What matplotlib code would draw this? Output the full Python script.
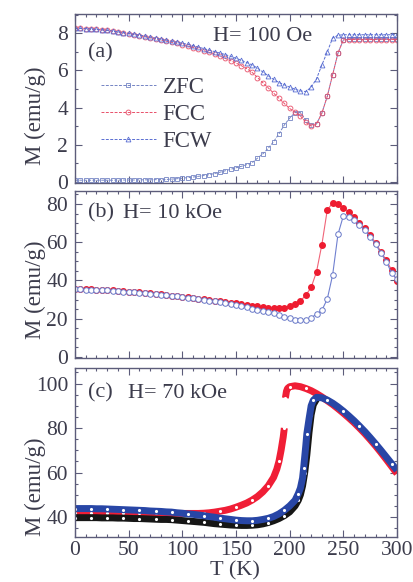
import matplotlib
matplotlib.use("Agg")
import matplotlib.pyplot as plt
from matplotlib.ticker import MultipleLocator

# ---- panel (a): H = 100 Oe, 5 K steps ----
T_a = list(range(0, 301, 5))
zfc_a = [0.08, 0.08, 0.08, 0.08, 0.08, 0.08, 0.08, 0.08, 0.09, 0.09,
         0.09, 0.09, 0.10, 0.10, 0.10, 0.11, 0.11, 0.12, 0.14, 0.16,
         0.19, 0.22, 0.25, 0.29, 0.33, 0.38, 0.44, 0.51, 0.59, 0.67,
         0.75, 0.83, 0.92, 1.02, 1.27, 1.50, 1.80, 2.16, 2.58, 3.06,
         3.43, 3.73, 3.73, 3.33, 3.06, 3.12, 3.70, 4.60, 5.77, 6.94,
         7.65, 7.68, 7.68, 7.68, 7.68, 7.68, 7.68, 7.68, 7.68, 7.68, 7.68]
fcc_a = [8.28, 8.27, 8.26, 8.24, 8.22, 8.19, 8.16, 8.12, 8.08, 8.03,
         7.98, 7.93, 7.88, 7.82, 7.76, 7.70, 7.64, 7.58, 7.52, 7.46,
         7.39, 7.32, 7.24, 7.16, 7.07, 6.98, 6.88, 6.77, 6.65, 6.53,
         6.40, 6.26, 6.10, 5.90, 5.62, 5.34, 5.06, 4.78, 4.50, 4.22,
         3.95, 3.75, 3.55, 3.20, 3.00, 3.10, 3.70, 4.60, 5.77, 6.94,
         7.65, 7.67, 7.67, 7.67, 7.67, 7.67, 7.67, 7.67, 7.67, 7.67, 7.67]
fcw_a = [8.28, 8.27, 8.26, 8.24, 8.22, 8.20, 8.17, 8.13, 8.09, 8.05,
         8.00, 7.96, 7.91, 7.86, 7.80, 7.75, 7.69, 7.64, 7.58, 7.53,
         7.47, 7.41, 7.34, 7.26, 7.18, 7.10, 7.02, 6.94, 6.86, 6.76,
         6.66, 6.55, 6.43, 6.30, 6.13, 5.92, 5.72, 5.52, 5.35, 5.23,
         5.10, 4.99, 4.90, 4.86, 5.10, 5.55, 6.30, 7.00, 7.75, 7.90,
         7.93, 7.93, 7.93, 7.93, 7.93, 7.93, 7.93, 7.93, 7.93, 7.93, 7.93]

# ---- panel (b): H = 10 kOe ----
T_b = list(range(0, 301, 5))
fcc_b = [35.5, 35.5, 35.4, 35.3, 35.2, 35.1, 35.0, 34.8, 34.6, 34.4,
         34.2, 34.0, 33.8, 33.5, 33.3, 33.0, 32.7, 32.4, 32.1, 31.8,
         31.5, 31.2, 30.8, 30.5, 30.1, 29.8, 29.4, 29.1, 28.7, 28.4,
         28.0, 27.6, 27.2, 26.8, 26.4, 26.0, 25.8, 25.7, 25.7, 25.7,
         26.5, 27.6, 29.2, 32.3, 36.3, 44.5, 58.8, 76.8, 80.6, 79.8,
         78.0, 75.9, 73.3, 69.8, 67.2, 63.7, 59.7, 55.0, 50.6, 45.4, 39.5]
fcw_b = [35.3, 35.3, 35.2, 35.1, 35.0, 34.9, 34.8, 34.6, 34.4, 34.2,
         34.0, 33.8, 33.6, 33.3, 33.1, 32.8, 32.5, 32.2, 31.9, 31.6,
         31.3, 31.0, 30.6, 30.2, 29.8, 29.4, 29.0, 28.5, 28.0, 27.5,
         27.0, 26.5, 25.9, 25.3, 24.7, 24.0, 23.4, 22.7, 21.8, 20.9,
         20.1, 19.5, 19.2, 19.3, 20.4, 22.4, 24.4, 30.2, 42.8, 64.1,
         73.8, 73.3, 71.6, 69.0, 66.3, 62.8, 59.0, 54.3, 49.9, 43.8, 40.5]

# ---- panel (c): H = 70 kOe ----
T_c_fcc_lo = [0, 5, 10, 15, 20, 25, 30, 35, 40, 45, 50, 55, 60, 65, 70, 75,
              80, 85, 90, 95, 100, 105, 110, 115, 120, 125, 130, 135, 140,
              145, 150, 155, 160, 165, 170, 175, 180, 185, 188, 190, 192,
              194, 195]
fcc_c_lo = [41.9, 41.9, 41.9, 41.9, 41.9, 41.9, 41.9, 41.8, 41.8, 41.8,
            41.8, 41.8, 41.8, 41.7, 41.7, 41.7, 41.7, 41.6, 41.6, 41.6,
            41.6, 41.6, 41.6, 41.6, 41.7, 41.9, 42.2, 42.6, 43.0, 43.6,
            44.4, 45.3, 46.3, 47.6, 49.2, 51.3, 54.0, 57.8, 61.5, 65.0,
            70.0, 76.0, 80.0]
T_c_fcc_hi = [196, 197, 198, 200, 205, 210, 215, 220, 225, 230, 235, 240,
              245, 250, 255, 260, 265, 270, 275, 280, 285, 290, 295, 300]
fcc_c_hi = [93.5, 96.5, 97.8, 98.6, 99.0, 98.6, 97.8, 96.8, 95.5, 94.0,
            92.3, 90.6, 88.7, 86.7, 84.6, 82.4, 80.0, 77.5, 74.8, 72.0,
            69.0, 65.9, 62.7, 59.5]
T_c_fcw = [0, 5, 10, 15, 20, 25, 30, 35, 40, 45, 50, 55, 60, 65, 70, 75,
           80, 85, 90, 95, 100, 105, 110, 115, 120, 125, 130, 135, 140, 145,
           150, 155, 160, 165, 170, 175, 180, 185, 190, 195, 200, 205, 208,
           210, 212, 213, 214, 215, 216, 218, 220, 222, 225, 230, 235, 240,
           245, 250, 255, 260, 265, 270, 275, 280, 285, 290, 295, 300]
fcw_c = [43.8, 43.8, 43.8, 43.8, 43.7, 43.7, 43.6, 43.5, 43.4, 43.3,
         43.2, 43.1, 43.0, 42.9, 42.7, 42.6, 42.5, 42.3, 42.2, 41.9,
         41.7, 41.4, 41.2, 40.9, 40.6, 40.2, 39.9, 39.5, 39.2, 38.9,
         38.6, 38.4, 38.3, 38.3, 38.5, 38.9, 39.4, 40.2, 41.4, 43.0,
         45.0, 47.5, 50.5, 53.0, 57.5, 62.0, 67.0, 72.0, 77.5, 84.0,
         90.0, 92.5, 93.8, 93.6, 92.6, 91.2, 89.5, 87.6, 85.5, 83.3,
         80.9, 78.4, 75.7, 72.9, 70.0, 67.0, 64.0, 61.0]
T_c_zfc = [0, 5, 10, 15, 20, 25, 30, 35, 40, 45, 50, 55, 60, 65, 70, 75,
           80, 85, 90, 95, 100, 105, 110, 115, 120, 125, 130, 135, 140, 145,
           150, 155, 160, 165, 170, 175, 180, 185, 190, 195, 200, 205, 208,
           210, 212, 214, 216, 218, 220, 222, 225]
zfc_c = [39.7, 39.7, 39.7, 39.7, 39.7, 39.6, 39.6, 39.6, 39.5, 39.5,
         39.4, 39.3, 39.3, 39.2, 39.1, 39.0, 38.9, 38.9, 38.8, 38.6,
         38.4, 38.2, 38.0, 37.8, 37.6, 37.3, 37.0, 36.8, 36.6, 36.4,
         36.3, 36.2, 36.2, 36.3, 36.5, 36.9, 37.5, 38.3, 39.3, 40.6,
         42.3, 45.0, 47.5, 50.0, 54.0, 60.0, 68.0, 78.0, 86.0, 90.5, 93.0]

plt.rcParams['font.family'] = ['Liberation Serif', 'STIXGeneral',
                               'DejaVu Serif']

SPINE = '#5c5c7a'
TXT = '#3c3c4c'
C_ZFC = '#7484c4'
C_FCC = '#e8506a'
C_FCW = '#5a6ed2'
FS = 16


def style_axis(ax, ymin, ymax, ymaj, ymin_step, show_x):
    ax.set_xlim(0, 300)
    ax.set_ylim(ymin, ymax)
    ax.xaxis.set_major_locator(MultipleLocator(50))
    ax.xaxis.set_minor_locator(MultipleLocator(10))
    ax.yaxis.set_major_locator(MultipleLocator(ymaj))
    ax.yaxis.set_minor_locator(MultipleLocator(ymin_step))
    ax.tick_params(which='both', direction='in', top=True, right=True,
                   color=SPINE, labelcolor=TXT, labelsize=15.5, width=0.8)
    ax.tick_params(which='major', length=5, pad=5)
    ax.tick_params(which='minor', length=2.5)
    if not show_x:
        ax.tick_params(axis='x', labelbottom=False)
    else:
        ax.tick_params(axis='x', pad=3)
    for s in ax.spines.values():
        s.set_color(SPINE)
        s.set_linewidth(1.0)


fig = plt.figure(figsize=(4.13, 5.82), dpi=100)
left, width = 0.1816, 0.7797
ax_a = fig.add_axes([left, 0.6856, width, 0.2904])
ax_b = fig.add_axes([left, 0.3849, width, 0.2869])
ax_c = fig.add_axes([left, 0.0773, width, 0.2904])

# (a)
ax_a.plot(T_a, zfc_a, color=C_ZFC, lw=0.7, ls='--', dashes=(3, 1.5),
          marker='s', ms=3.5, mfc='none', mew=0.6, label='ZFC')
ax_a.plot(T_a, fcc_a, color=C_FCC, lw=0.7, ls='--', dashes=(3, 1.5),
          marker='o', ms=3.5, mfc='none', mew=0.6, label='FCC')
ax_a.plot(T_a, fcw_a, color=C_FCW, lw=0.7, ls='--', dashes=(3, 1.5),
          marker='^', ms=3.5, mfc='none', mew=0.6, label='FCW')
style_axis(ax_a, -0.07, 9.05, 2, 1, False)
leg = ax_a.legend(loc='upper left', bbox_to_anchor=(0.08, 0.63),
                  frameon=False, fontsize=FS + 0.5, numpoints=1,
                  handlelength=2.4, handletextpad=0.3, labelspacing=0.28,
                  borderpad=0, borderaxespad=0)
for t in leg.get_texts():
    t.set_color(TXT)
ax_a.text(0.04, 0.77, '(a)', transform=ax_a.transAxes, fontsize=FS,
          color=TXT, va='center')
ax_a.text(0.43, 0.865, 'H= 100 Oe', transform=ax_a.transAxes, fontsize=FS,
          color=TXT, va='center')
ax_a.set_ylabel('M (emu/g)', fontsize=FS + 0.5, color=TXT)
ax_a.yaxis.set_label_coords(-0.09, 0.40)

# (b)
ax_b.plot(T_b, fcc_b, color='#f06478', lw=0.8, marker='o', ms=4,
          mfc='#ee1c30', mec='#ee1c30')
ax_b.plot(T_b, fcw_b, color='#7080d0', lw=0.8, marker='o', ms=4,
          mfc='white', mec='#6878c8', mew=0.7)
style_axis(ax_b, -0.6, 86.8, 20, 5, False)
ax_b.text(0.04, 0.868, '(b)', transform=ax_b.transAxes, fontsize=FS,
          color=TXT, va='center')
ax_b.text(0.15, 0.868, 'H= 10 kOe', transform=ax_b.transAxes, fontsize=FS,
          color=TXT, va='center')
ax_b.set_ylabel('M (emu/g)', fontsize=FS + 0.5, color=TXT)
ax_b.yaxis.set_label_coords(-0.09, 0.41)

# (c)
for T, M, c in [(T_c_fcc_lo, fcc_c_lo, '#f01e36'),
                (T_c_fcc_hi, fcc_c_hi, '#f01e36'),
                (T_c_zfc, zfc_c, '#161616'),
                (T_c_fcw, fcw_c, '#2846a6')]:
    ax_c.plot(T, M, color=c, lw=5, solid_capstyle='butt')
    ax_c.plot(T, M, ls='none', marker='.', ms=2.5, color='white',
              markevery=3)
style_axis(ax_c, 31, 107, 20, 5, True)
ax_c.text(0.04, 0.852, '(c)', transform=ax_c.transAxes, fontsize=FS,
          color=TXT, va='center')
ax_c.text(0.165, 0.852, 'H= 70 kOe', transform=ax_c.transAxes, fontsize=FS,
          color=TXT, va='center')
ax_c.set_ylabel('M (emu/g)', fontsize=FS + 0.5, color=TXT)
ax_c.yaxis.set_label_coords(-0.09, 0.30)

fig.text(235 / 413, 0.003, 'T (K)', ha='center', va='bottom',
         fontsize=FS, color=TXT)

fig.savefig('out.png', dpi=100)
